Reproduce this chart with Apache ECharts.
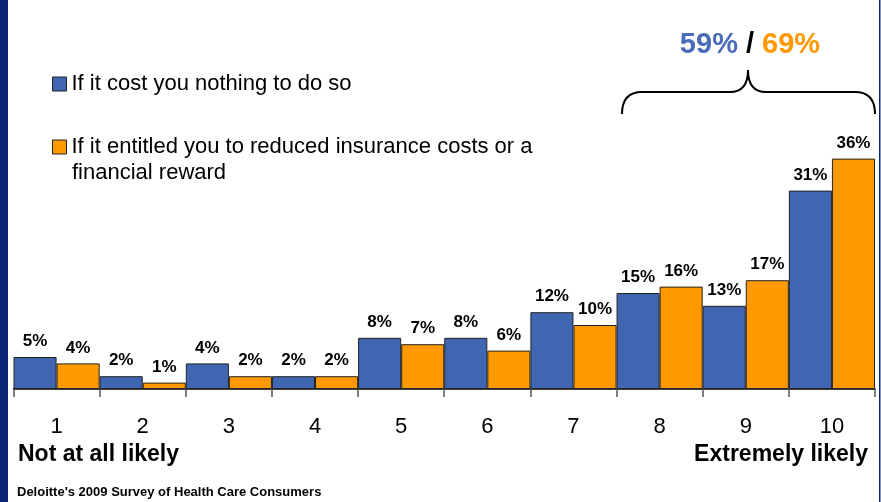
<!DOCTYPE html>
<html>
<head>
<meta charset="utf-8">
<style>
  html, body { margin: 0; padding: 0; background: #ffffff; }
  #chart { width: 881px; height: 502px; }
</style>
<script src="https://cdn.jsdelivr.net/npm/echarts@6/dist/echarts.min.js"></script>
</head>
<body>
<div id="chart"></div>
<script>
// Likelihood scale, 1 = not at all likely ... 10 = extremely likely
const categories = ['1', '2', '3', '4', '5', '6', '7', '8', '9', '10'];
// Share of respondents (%) at each point of the scale
const costNothing = [5, 2, 4, 2, 8, 8, 12, 15, 13, 31];
const reducedCosts = [4, 1, 2, 2, 7, 6, 10, 16, 17, 36];
const seriesNames = [
  'If it cost you nothing to do so',
  'If it entitled you to reduced insurance costs or a\nfinancial reward'
];
// Top of the scale grouped under the brace (8, 9 and 10)
const topBoxCategories = ['8', '9', '10'];

const BLUE = '#4166b1';
const ORANGE = '#ff9900';
const NAVY = '#0b2674';
const FONT = '"Liberation Sans", Arial, Helvetica, sans-serif';

function topBoxSum(values) {
  return topBoxCategories.reduce((s, c) => s + values[categories.indexOf(c)], 0);
}

const chart = echarts.init(document.getElementById('chart'), null, { renderer: 'canvas' });

const barLabel = {
  show: true,
  position: 'top',
  distance: 7,
  formatter: '{c}%',
  color: '#000',
  fontFamily: FONT,
  fontWeight: 'bold',
  fontSize: 17
};

// curly brace made of straight runs and quadratic curves
const braceStyle = { stroke: '#000', lineWidth: 2, fill: 'none' };
const braceParts = [
  { type: 'bezierCurve', shape: { x1: 622, y1: 114, cpx1: 622, cpy1: 92, x2: 642, y2: 92 } },
  { type: 'line', shape: { x1: 642, y1: 92, x2: 730, y2: 92 } },
  { type: 'bezierCurve', shape: { x1: 730, y1: 92, cpx1: 748, cpy1: 92, x2: 748, y2: 70 } },
  { type: 'bezierCurve', shape: { x1: 748, y1: 70, cpx1: 748, cpy1: 92, x2: 766, y2: 92 } },
  { type: 'line', shape: { x1: 766, y1: 92, x2: 855, y2: 92 } },
  { type: 'bezierCurve', shape: { x1: 855, y1: 92, cpx1: 875, cpy1: 92, x2: 875, y2: 114 } }
].map(p => Object.assign(p, { style: braceStyle, silent: true }));

// The legend shows the first line of each name next to its swatch;
// any continuation line is set underneath, flush with the legend text.
const legendText = { fontSize: 22, color: '#000', fontFamily: FONT };
const firstLine = name => name.split('\n')[0];
const restLines = name => name.split('\n').slice(1).join('\n');

chart.setOption({
  animation: false,
  backgroundColor: '#ffffff',
  textStyle: { fontFamily: FONT },
  grid: { left: 13.5, right: 6, top: 133, bottom: 113, containLabel: false },
  legend: [
    {
      data: [seriesNames[0]],
      left: 52, top: 73, padding: 0,
      itemWidth: 14, itemHeight: 14,
      icon: 'rect',
      itemStyle: { borderColor: '#222', borderWidth: 1 },
      formatter: firstLine,
      textStyle: legendText,
      selectedMode: false
    },
    {
      data: [seriesNames[1]],
      left: 52, top: 136, padding: 0,
      itemWidth: 14, itemHeight: 14,
      icon: 'rect',
      itemStyle: { borderColor: '#222', borderWidth: 1 },
      formatter: firstLine,
      textStyle: legendText,
      selectedMode: false
    }
  ],
  xAxis: {
    type: 'category',
    data: categories,
    axisLine: { lineStyle: { color: '#000', width: 1.5 } },
    axisTick: { show: true, length: 8, lineStyle: { color: '#555', width: 1.5 } },
    axisLabel: { color: '#000', fontSize: 22, margin: 27, fontFamily: FONT },
    splitLine: { show: false }
  },
  yAxis: {
    type: 'value',
    min: 0,
    max: 40,
    show: false,
    splitLine: { show: false }
  },
  series: [
    {
      name: seriesNames[0],
      type: 'bar',
      data: costNothing,
      barGap: '0%',
      barCategoryGap: '0%',
      itemStyle: { color: BLUE, borderColor: '#222', borderWidth: 1 },
      label: barLabel
    },
    {
      name: seriesNames[1],
      type: 'bar',
      data: reducedCosts,
      barGap: '0%',
      barCategoryGap: '0%',
      itemStyle: { color: ORANGE, borderColor: '#222', borderWidth: 1 },
      label: barLabel
    }
  ],
  graphic: [
    // page frame
    { type: 'rect', left: 0, top: 0, shape: { width: 8, height: 502 }, style: { fill: NAVY }, silent: true },
    { type: 'rect', left: 879, top: 0, shape: { width: 1.5, height: 502 }, style: { fill: NAVY }, silent: true },
    // second line of the orange legend entry
    {
      type: 'text', x: 72, y: 173,
      style: { text: restLines(seriesNames[1]), align: 'left', verticalAlign: 'middle', font: '22px ' + FONT, fill: '#000' },
      silent: true
    },
    ...braceParts,
    {
      type: 'text',
      x: 750, y: 45,
      style: {
        text: '{b|' + topBoxSum(costNothing) + '%} {k|/} {o|' + topBoxSum(reducedCosts) + '%}',
        align: 'center',
        verticalAlign: 'middle',
        font: 'bold 29px ' + FONT,
        rich: {
          b: { fill: '#4a6bb8', font: 'bold 29px ' + FONT },
          k: { fill: '#000', font: 'bold 29px ' + FONT },
          o: { fill: ORANGE, font: 'bold 29px ' + FONT }
        }
      },
      silent: true
    },
    // scale end captions
    {
      type: 'text', x: 18, y: 455,
      style: { text: 'Not at all likely', align: 'left', verticalAlign: 'middle', font: 'bold 23px ' + FONT, fill: '#000' },
      silent: true
    },
    {
      type: 'text', x: 868, y: 455,
      style: { text: 'Extremely likely', align: 'right', verticalAlign: 'middle', font: 'bold 23px ' + FONT, fill: '#000' },
      silent: true
    },
    // source note
    {
      type: 'text', x: 17, y: 492,
      style: { text: "Deloitte's 2009 Survey of Health Care Consumers", align: 'left', verticalAlign: 'middle', font: 'bold 13px ' + FONT, fill: '#000' },
      silent: true
    }
  ]
});
</script>
</body>
</html>
